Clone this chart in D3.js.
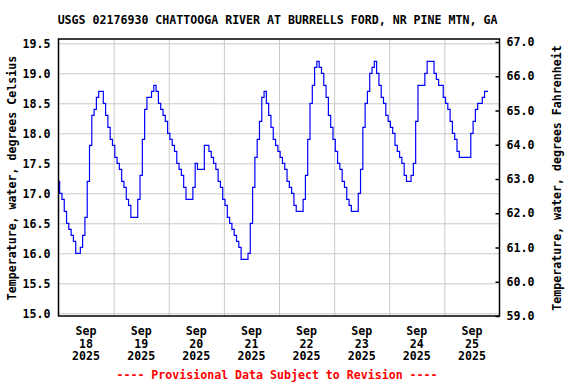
<!DOCTYPE html>
<html>
<head>
<meta charset="utf-8">
<script src="https://cdn.jsdelivr.net/npm/d3@7"></script>
<style>
  body { margin: 0; background: #fff; }
  svg text { font-family: "DejaVu Sans Mono", monospace; font-weight: bold; font-size: 11.6px; fill: #000; }
  .grid line { stroke: #c8c8c8; stroke-width: 1; }
  .frame { fill: none; stroke: #000; stroke-width: 1.5; }
  .temp_line { fill: none; stroke: #0000ff; stroke-width: 1.2; }
  .prov_str { fill: #ff0000; }
</style>
</head>
<body>
<svg id="chart" width="576" height="384"></svg>
<script>
// hourly water temperature, deg C, starting Sep 18 2025 00:00
var tempSep18 = [17.2,17.0,16.9,16.7,16.5,16.4,16.3,16.2,16.0,16.0,16.1,16.3,16.6,17.2,17.8,18.3,18.4,18.6,18.7,18.7,18.5,18.3,18.1,17.9];
var tempSep19 = [17.8,17.6,17.5,17.4,17.2,17.1,16.9,16.8,16.6,16.6,16.6,16.9,17.3,17.9,18.4,18.6,18.6,18.7,18.8,18.7,18.5,18.4,18.3,18.2];
var tempSep20 = [18.0,17.9,17.8,17.7,17.5,17.4,17.3,17.1,16.9,16.9,16.9,17.1,17.5,17.4,17.4,17.4,17.8,17.8,17.7,17.6,17.5,17.4,17.2,17.1];
var tempSep21 = [16.9,16.8,16.6,16.5,16.4,16.3,16.2,16.1,15.9,15.9,15.9,16.0,16.5,17.1,17.6,17.9,18.2,18.6,18.7,18.5,18.3,18.1,17.9,17.8];
var tempSep22 = [17.7,17.6,17.5,17.4,17.2,17.1,17.0,16.8,16.7,16.7,16.7,16.9,17.3,17.9,18.5,18.8,19.1,19.2,19.1,19.0,18.8,18.6,18.3,18.1];
var tempSep23 = [17.9,17.7,17.5,17.4,17.2,17.1,16.9,16.8,16.7,16.7,16.7,17.0,17.4,18.1,18.5,18.7,19.0,19.1,19.2,19.0,18.8,18.6,18.5,18.3];
var tempSep24 = [18.2,18.1,18.0,17.8,17.7,17.6,17.5,17.3,17.2,17.2,17.3,17.5,18.2,18.8,18.8,18.8,19.0,19.2,19.2,19.2,19.0,18.9,18.8,18.8];
var tempSep25 = [18.6,18.5,18.4,18.2,18.0,17.9,17.7,17.6,17.6,17.6,17.6,17.6,18.0,18.2,18.4,18.5,18.5,18.6,18.7,18.7];

var dayLabels = ['18','19','20','21','22','23','24','25'];
var monthLabel = 'Sep';
var yearLabel = '2025';
var celsiusTicks = [15.0,15.5,16.0,16.5,17.0,17.5,18.0,18.5,19.0,19.5];
var fahrenheitTicks = [59,60,61,62,63,64,65,66,67];

var titleStr = 'USGS 02176930 CHATTOOGA RIVER AT BURRELLS FORD, NR PINE MTN, GA';
var leftTitle = 'Temperature, water, degrees Celsius';
var rightTitle = 'Temperature, water, degrees Fahrenheit';
var provStr = '---- Provisional Data Subject to Revision ----';

var svg = d3.select('#chart');
var plotLeft = 58.5, plotRight = 499.5, plotTop = 39, plotBottom = 316;

var start = new Date(2025, 8, 18, 0, 0);
var end = new Date(2025, 8, 26, 0, 0);
var x = d3.scaleTime().domain([start, end]).range([plotLeft, plotRight]);
// 19.5 sits at y=43.3, 15.0 at y=313.3
var y = d3.scaleLinear().domain([15, 19.5]).range([313.3, 43.3]);
var yF = d3.scaleLinear().domain([59, 67]).range([316, 42]);

var temps = [].concat(tempSep18, tempSep19, tempSep20, tempSep21, tempSep22, tempSep23, tempSep24, tempSep25);
var data = temps.map(function(v, i) {
  return { t: d3.timeHour.offset(start, i), v: v };
});

// grid
svg.append('g')
  .attr('class', 'grid')
  .attr('transform', 'translate(' + plotLeft + ',0)')
  .call(d3.axisLeft(y).tickValues(celsiusTicks).tickSize(-(plotRight - plotLeft)).tickFormat(''))
  .call(function(g) { g.select('.domain').remove(); });

var midnights = d3.range(1, 8).map(function(d) { return d3.timeDay.offset(start, d); });
svg.append('g')
  .attr('class', 'grid')
  .attr('transform', 'translate(0,' + plotBottom + ')')
  .call(d3.axisBottom(x).tickValues(midnights).tickSize(-(plotBottom - plotTop)).tickFormat(''))
  .call(function(g) { g.select('.domain').remove(); });

// data line
svg.append('clipPath').attr('id', 'plotclip')
  .append('rect')
  .attr('x', plotLeft).attr('y', plotTop)
  .attr('width', plotRight - plotLeft).attr('height', plotBottom - plotTop);

var line = d3.line()
  .x(function(d) { return x(d.t); })
  .y(function(d) { return y(d.v); })
  .curve(d3.curveStep);

svg.append('path')
  .datum(data)
  .attr('class', 'temp_line')
  .attr('clip-path', 'url(#plotclip)')
  .attr('d', line);

// frame
svg.append('rect')
  .attr('x', plotLeft).attr('y', plotTop)
  .attr('width', plotRight - plotLeft).attr('height', plotBottom - plotTop)
  .attr('class', 'frame');

// left axis labels
svg.append('g')
  .attr('transform', 'translate(' + plotLeft + ',0)')
  .call(d3.axisLeft(y).tickValues(celsiusTicks).tickSize(0).tickPadding(8).tickFormat(d3.format('.1f')))
  .call(function(g) {
    g.select('.domain').remove();
    g.selectAll('text').attr('font-family', null).attr('font-size', null);
  });

// right axis, short ticks pointing inward
svg.append('g')
  .attr('transform', 'translate(' + plotRight + ',0)')
  .call(d3.axisRight(yF).tickValues(fahrenheitTicks).tickSize(-4).tickPadding(7).tickFormat(d3.format('.1f')))
  .call(function(g) {
    g.select('.domain').remove();
    g.selectAll('line').attr('stroke', '#000').attr('stroke-width', 1.5);
    g.selectAll('text').attr('font-family', null).attr('font-size', null);
  });

// day labels at noon
var days = svg.append('g');
dayLabels.forEach(function(lab, i) {
  var noon = d3.timeHour.offset(d3.timeDay.offset(start, i), 12);
  var t = days.append('text')
    .attr('x', x(noon))
    .attr('y', 335)
    .attr('text-anchor', 'middle');
  t.append('tspan').attr('x', x(noon)).attr('dy', 0).text(monthLabel);
  t.append('tspan').attr('x', x(noon)).attr('dy', 12.7).text(lab);
  t.append('tspan').attr('x', x(noon)).attr('dy', 12.7).text(yearLabel);
});

// titles
svg.append('text')
  .attr('x', 277.5)
  .attr('y', 24)
  .attr('text-anchor', 'middle')
  .text(titleStr);

svg.append('text')
  .attr('transform', 'translate(16,178) rotate(-90)')
  .attr('text-anchor', 'middle')
  .text(leftTitle);

svg.append('text')
  .attr('transform', 'translate(561,178) rotate(-90)')
  .attr('text-anchor', 'middle')
  .text(rightTitle);

svg.append('text')
  .attr('x', 277)
  .attr('y', 379)
  .attr('text-anchor', 'middle')
  .attr('class', 'prov_str')
  .text(provStr);
</script>
</body>
</html>
